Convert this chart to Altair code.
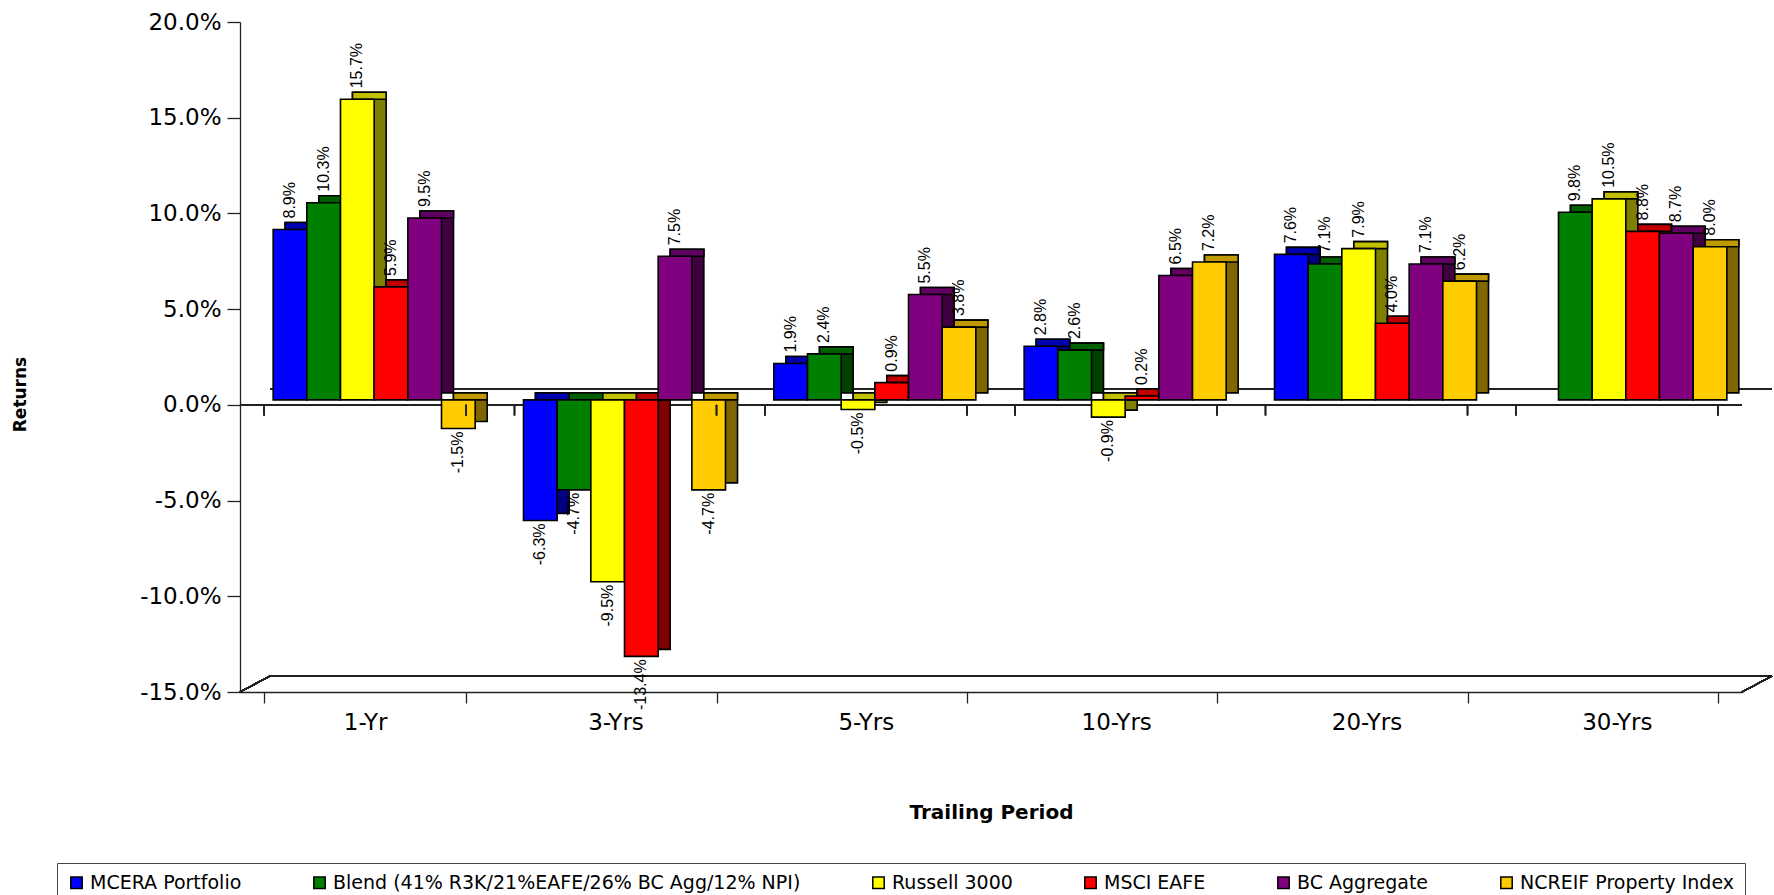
import altair as alt
import pandas as pd

# Trailing periods and benchmark series
periods = ["1-Yr", "3-Yrs", "5-Yrs", "10-Yrs", "20-Yrs", "30-Yrs"]
series = [
    "MCERA Portfolio",
    "Blend (41% R3K/21%EAFE/26% BC Agg/12% NPI)",
    "Russell 3000",
    "MSCI EAFE",
    "BC Aggregate",
    "NCREIF Property Index",
]

# Annualised returns (%) per period
mcera = [8.9, -6.3, 1.9, 2.8, 7.6, None]
blend = [10.3, -4.7, 2.4, 2.6, 7.1, 9.8]
russell = [15.7, -9.5, -0.5, -0.9, 7.9, 10.5]
eafe = [5.9, -13.4, 0.9, 0.2, 4.0, 8.8]
bc_agg = [9.5, 7.5, 5.5, 6.5, 7.1, 8.7]
ncreif = [-1.5, -4.7, 3.8, 7.2, 6.2, 8.0]

face_colors = ["#0000FF", "#008000", "#FFFF00", "#FF0000", "#800080", "#FFCC00"]
top_colors = ["#0000B0", "#006000", "#C0C000", "#C00000", "#600060", "#C09900"]
side_colors = ["#000080", "#004000", "#808000", "#800000", "#400040", "#806600"]

rows = []
for s, vals, top, side in zip(series, [mcera, blend, russell, eafe, bc_agg, ncreif],
                              top_colors, side_colors):
    for p, v in zip(periods, vals):
        if v is not None:
            rows.append({"period": p, "series": s, "value": v, "top": top, "side": side})
df = pd.DataFrame(rows)

W, H = 1502, 670
FONT = "DejaVu Sans"
PAD_INNER = 0.193
BAND = W / len(periods) * (1 - PAD_INNER)   # width of one bar cluster
DEPTH_X, DEPTH_Y = 12, 7                     # bar depth
SHIFT_X, SHIFT_Y = 9, 5                      # bars sit slightly behind the front plane

# percent text with a plain hyphen for negatives
PCT = "replace(format({v}, '.1f'), '\u2212', '-') + '%'"

x_axis = alt.Axis(
    title="Trailing Period",
    tickBand="extent",
    tickSize=11,
    labelPadding=8,
    labelFont=FONT,
    labelFontSize=23,
    labelAngle=0,
    titleFont=FONT,
    titleFontSize=20,
    titleFontWeight="bold",
    titlePadding=68,
)
y_axis = alt.Axis(
    title="Returns",
    values=[-15, -10, -5, 0, 5, 10, 15, 20],
    labelExpr=PCT.format(v="datum.value"),
    tickSize=13,
    labelPadding=6,
    labelFont=FONT,
    labelFontSize=23,
    titleFont=FONT,
    titleFontSize=17,
    titleFontWeight="bold",
    titleAngle=270,
    titleAlign="center",
    titleBaseline="middle",
    titleX=-220,
    titleY=372,
)
x_scale = alt.Scale(domain=periods, paddingInner=PAD_INNER, paddingOuter=PAD_INNER / 2)
y_scale = alt.Scale(domain=[-15, 20], nice=False, zero=False)


def offset_enc(shift):
    return alt.XOffset(
        "series:N",
        scale=alt.Scale(type="band", domain=series, paddingInner=0, paddingOuter=0,
                        range=[shift, shift + BAND]),
    )


front_off = offset_enc(SHIFT_X)
depth_off = offset_enc(SHIFT_X + DEPTH_X)

x_enc = alt.X("period:N", scale=x_scale, axis=x_axis)
y_enc = alt.Y("value:Q", scale=y_scale, axis=y_axis, title="Returns")


def y_datum(v):
    return alt.Y(datum=v, scale=y_scale, axis=y_axis, title="Returns")


base = alt.Chart(df)
line = dict(color="#222", strokeWidth=1.3)

# Depth planes: back edges of the zero plane and of the floor
back_zero = base.mark_rule(yOffset=-16, **line).encode(
    y=y_datum(0), x=alt.value(30), x2=alt.value(W + 30),
)
back_floor = base.mark_rule(yOffset=-16, **line).encode(
    y=y_datum(-15), x=alt.value(30), x2=alt.value(W + 30),
)
floor_left = base.mark_rule(y2Offset=-16, **line).encode(
    y=y_datum(-15), y2=alt.Y2(datum=-15), x=alt.value(0), x2=alt.value(30),
)
floor_right = base.mark_rule(y2Offset=-16, **line).encode(
    y=y_datum(-15), y2=alt.Y2(datum=-15), x=alt.value(W), x2=alt.value(W + 30),
)
front_zero = base.mark_rule(**line).encode(y=y_datum(0))

# Category ticks hanging from the zero line
zero_ticks_a = base.mark_rule(**line).encode(
    x=alt.X("period:N", scale=x_scale, axis=x_axis, bandPosition=0),
    y=y_datum(0), y2=alt.Y2(datum=-0.55),
)
zero_ticks_b = base.mark_rule(**line).encode(
    x=alt.X("period:N", scale=x_scale, axis=x_axis, bandPosition=1),
    y=y_datum(0), y2=alt.Y2(datum=-0.55),
)

# Side face of each bar
bar_side = base.mark_bar(
    stroke="black", strokeWidth=1.6,
    yOffset=-(SHIFT_Y + DEPTH_Y), y2Offset=-(SHIFT_Y + DEPTH_Y),
).encode(
    x=x_enc, xOffset=depth_off, y=y_enc,
    color=alt.Color("side:N", scale=None),
)

# Top face of each bar (at the zero plane for negative returns)
bar_top = base.transform_calculate(
    lid="max(datum.value, 0)"
).mark_bar(
    stroke="black", strokeWidth=1.6,
    yOffset=-(SHIFT_Y + DEPTH_Y), y2Offset=-SHIFT_Y,
).encode(
    x=x_enc, xOffset=depth_off,
    y=alt.Y("lid:Q", scale=y_scale, axis=y_axis, title="Returns"),
    y2="lid:Q",
    color=alt.Color("top:N", scale=None),
)

# Front faces
bar_front = base.mark_bar(
    stroke="black", strokeWidth=1.6, yOffset=-SHIFT_Y, y2Offset=-SHIFT_Y,
).encode(
    x=x_enc, xOffset=front_off, y=y_enc,
    color=alt.Color(
        "series:N",
        scale=alt.Scale(domain=series, range=face_colors),
        legend=alt.Legend(
            title=None,
            orient="none",
            legendX=-183,
            legendY=841,
            direction="horizontal",
            columns=6,
            symbolType="square",
            symbolSize=130,
            symbolStrokeColor="black",
            symbolStrokeWidth=1.5,
            labelFont=FONT,
            labelFontSize=19,
            labelColor="black",
            labelLimit=800,
            labelOffset=4,
            columnPadding=68,
            padding=10,
            strokeColor="#444",
            fillColor="white",
        ),
    ),
)

labels_pos = base.transform_filter("datum.value >= 0").transform_calculate(
    lbl=PCT.format(v="datum.value")
).mark_text(
    angle=270, align="left", baseline="middle", dx=SHIFT_Y + 11,
    font="Liberation Sans", fontSize=16, color="black",
).encode(x=x_enc, xOffset=front_off, y=y_enc, text="lbl:N")

labels_neg = base.transform_filter("datum.value < 0").transform_calculate(
    lbl=PCT.format(v="datum.value")
).mark_text(
    angle=270, align="right", baseline="middle", dx=SHIFT_Y - 3,
    font="Liberation Sans", fontSize=16, color="black",
).encode(x=x_enc, xOffset=front_off, y=y_enc, text="lbl:N")

chart = alt.layer(
    back_zero, back_floor, floor_left, floor_right, front_zero,
    bar_side, bar_top, bar_front, labels_pos, labels_neg,
    zero_ticks_a, zero_ticks_b,
).resolve_scale(
    xOffset="independent"
).properties(
    width=W,
    height=H,
    autosize=alt.AutoSizeParams(type="none"),
    padding={"left": 240, "top": 22, "right": 32, "bottom": 203},
).configure_view(
    stroke=None
).configure_axis(
    grid=False, domainColor="#222", tickColor="#222", labelColor="black",
    titleColor="black", domainWidth=1.3, tickWidth=1.3,
)

chart.save("out.html", embed_options={"renderer": "svg", "actions": False})
